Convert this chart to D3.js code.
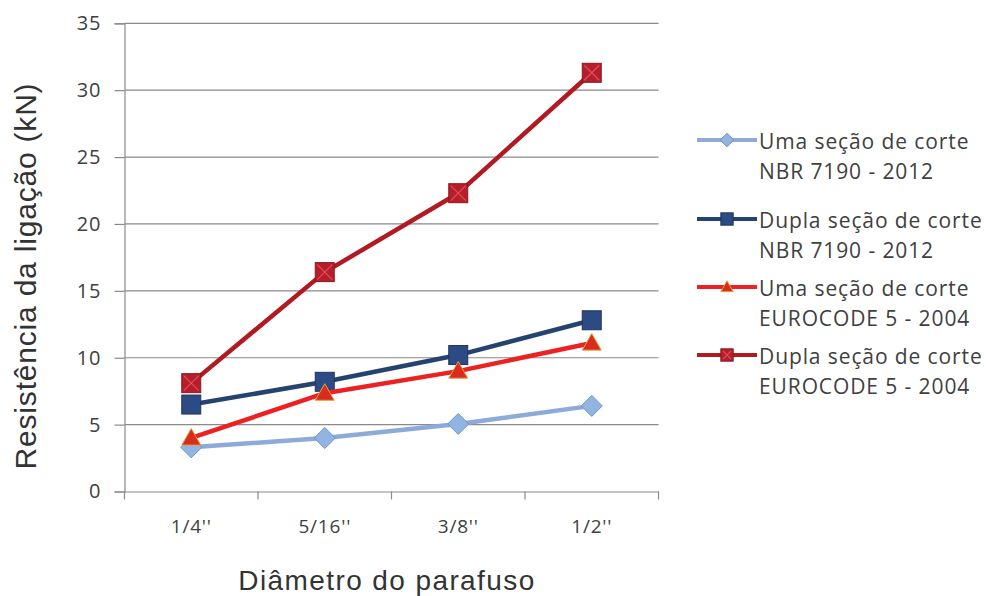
<!DOCTYPE html>
<html>
<head>
<meta charset="utf-8">
<script src="https://cdn.jsdelivr.net/npm/d3@7"></script>
<style>
  html, body { margin: 0; padding: 0; background: #fff; }
  svg { display: block; }
</style>
</head>
<body>
<svg id="chart" width="986" height="596"></svg>
<script>
// Bolt diameters (categories)
const categories = ["1/4''", "5/16''", "3/8''", "1/2''"];

// Connection strength (kN) per method
const umaNBR = [3.3, 4.0, 5.05, 6.4];
const duplaNBR = [6.5, 8.2, 10.2, 12.8];
const umaEC5 = [4.0, 7.35, 9.0, 11.1];
const duplaEC5 = [8.1, 16.4, 22.3, 31.3];

const yTicks = [0, 5, 10, 15, 20, 25, 30, 35];

const seriesNames = [
  ["Uma seção de corte", "NBR 7190 - 2012"],
  ["Dupla seção de corte", "NBR 7190 - 2012"],
  ["Uma seção de corte", "EUROCODE 5 - 2004"],
  ["Dupla seção de corte", "EUROCODE 5 - 2004"]
];

const series = [
  { values: umaNBR, line: "#8eaad8", fill: "#92b4e2", stroke: "#6f91c6", shape: "diamond" },
  { values: duplaNBR, line: "#24446f", fill: "#2c4a84", stroke: "#1e3560", shape: "square" },
  { values: umaEC5, line: "#ec2222", fill: "#d92c1c", stroke: "#c0281a", shape: "triangle" },
  { values: duplaEC5, line: "#b11a22", fill: "#b51e2a", stroke: "#8e1720", shape: "squareX" }
];

const labelFont = "'Open Sans', 'Noto Sans', sans-serif";
const titleFont = "'Liberation Sans', Arial, sans-serif";

const svg = d3.select("#chart");
const plot = { left: 124.5, right: 658.5, top: 23.3, bottom: 491.5 };

const x = d3.scaleBand().domain(categories).range([plot.left, plot.right]).paddingInner(0).paddingOuter(0);
const y = d3.scaleLinear().domain([0, 35]).range([plot.bottom, plot.top]);

// Horizontal gridlines
svg.append("g")
  .selectAll("line")
  .data(yTicks.filter(d => d > 0))
  .join("line")
  .attr("x1", plot.left).attr("x2", plot.right)
  .attr("y1", d => y(d)).attr("y2", d => y(d))
  .attr("stroke", "#8a8a8a").attr("stroke-width", 1.2);

// Y axis
const yAxis = svg.append("g")
  .attr("transform", `translate(${plot.left},0)`)
  .call(d3.axisLeft(y).tickValues(yTicks).tickSize(10).tickPadding(13));
yAxis.select(".domain").attr("stroke", "#8a8a8a").attr("stroke-width", 1.2);
yAxis.selectAll(".tick line").attr("stroke", "#8a8a8a").attr("stroke-width", 1.2);
yAxis.selectAll(".tick text")
  .attr("font-family", labelFont)
  .attr("font-size", 20).attr("fill", "#404040")
  .attr("letter-spacing", 1);

// X axis, with tick marks on the category boundaries
const xAxis = svg.append("g")
  .attr("transform", `translate(0,${plot.bottom})`)
  .call(d3.axisBottom(x).tickSize(0).tickPadding(28));
xAxis.select(".domain").attr("stroke", "#8a8a8a").attr("stroke-width", 1.2);
xAxis.selectAll(".tick text")
  .attr("font-family", labelFont)
  .attr("font-size", 19).attr("fill", "#404040")
  .attr("letter-spacing", 0.8);
const bounds = categories.map(c => x(c)).concat([x(categories[categories.length - 1]) + x.bandwidth()]);
xAxis.selectAll(".bound")
  .data(bounds)
  .join("line")
  .attr("class", "bound")
  .attr("x1", d => d).attr("x2", d => d)
  .attr("y1", 0).attr("y2", 8)
  .attr("stroke", "#8a8a8a").attr("stroke-width", 1.2);

// Axis titles
svg.append("text")
  .attr("transform", `translate(36,276) rotate(-90)`)
  .attr("text-anchor", "middle")
  .attr("font-family", titleFont)
  .attr("font-size", 30).attr("fill", "#333")
  .attr("letter-spacing", 0.8)
  .text("Resistência da ligação (kN)");

svg.append("text")
  .attr("x", 387).attr("y", 590)
  .attr("text-anchor", "middle")
  .attr("font-family", titleFont)
  .attr("font-size", 28).attr("fill", "#333")
  .attr("letter-spacing", 1.4)
  .text("Diâmetro do parafuso");

// Marker shapes
function marker(g, d, cx, cy, scale) {
  const k = scale || 1;
  if (d.shape === "diamond") {
    const r = 10.5 * k;
    g.append("path")
      .attr("d", `M${cx},${cy - r}L${cx + r},${cy}L${cx},${cy + r}L${cx - r},${cy}Z`)
      .attr("fill", d.fill).attr("stroke", d.stroke).attr("stroke-width", 1);
  } else if (d.shape === "square" || d.shape === "squareX") {
    const h = 9.5 * k;
    g.append("rect")
      .attr("x", cx - h).attr("y", cy - h).attr("width", 2 * h).attr("height", 2 * h)
      .attr("fill", d.fill).attr("stroke", d.stroke).attr("stroke-width", 1);
    if (d.shape === "squareX") {
      g.append("path")
        .attr("d", `M${cx - h + 2},${cy - h + 2}L${cx + h - 2},${cy + h - 2}M${cx + h - 2},${cy - h + 2}L${cx - h + 2},${cy + h - 2}`)
        .attr("stroke", "#e0505a").attr("stroke-width", 1.2).attr("fill", "none");
    }
  } else if (d.shape === "triangle") {
    const r = 9.5 * k;
    g.append("path")
      .attr("d", `M${cx},${cy - r}L${cx + r},${cy + r * 0.75}L${cx - r},${cy + r * 0.75}Z`)
      .attr("fill", d.fill).attr("stroke", "#e8a040").attr("stroke-width", 1);
  }
}

const cx = c => x(c) + x.bandwidth() / 2;
const lineGen = d3.line().x((v, i) => cx(categories[i])).y(v => y(v));

// Series lines and markers
series.forEach(s => {
  const g = svg.append("g");
  g.append("path")
    .attr("d", lineGen(s.values))
    .attr("fill", "none").attr("stroke", s.line)
    .attr("stroke-width", 4.5).attr("stroke-linejoin", "round");
  s.values.forEach((v, i) => marker(g, s, cx(categories[i]), y(v), 1));
});

// Legend
const legend = svg.append("g");
const legendY = [140, 219, 287, 355];
series.forEach((s, i) => {
  const ly = legendY[i];
  const g = legend.append("g");
  g.append("line")
    .attr("x1", 697).attr("x2", 757).attr("y1", ly).attr("y2", ly)
    .attr("stroke", s.line).attr("stroke-width", 4);
  marker(g, s, 727, ly, 0.65);
  const t = g.append("text")
    .attr("font-family", labelFont)
    .attr("font-size", 21).attr("fill", "#404040")
    .attr("letter-spacing", 0.9);
  t.append("tspan").attr("x", 759).attr("y", ly + 9).text(seriesNames[i][0]);
  t.append("tspan").attr("x", 759).attr("y", ly + 39).text(seriesNames[i][1]);
});
</script>
</body>
</html>
